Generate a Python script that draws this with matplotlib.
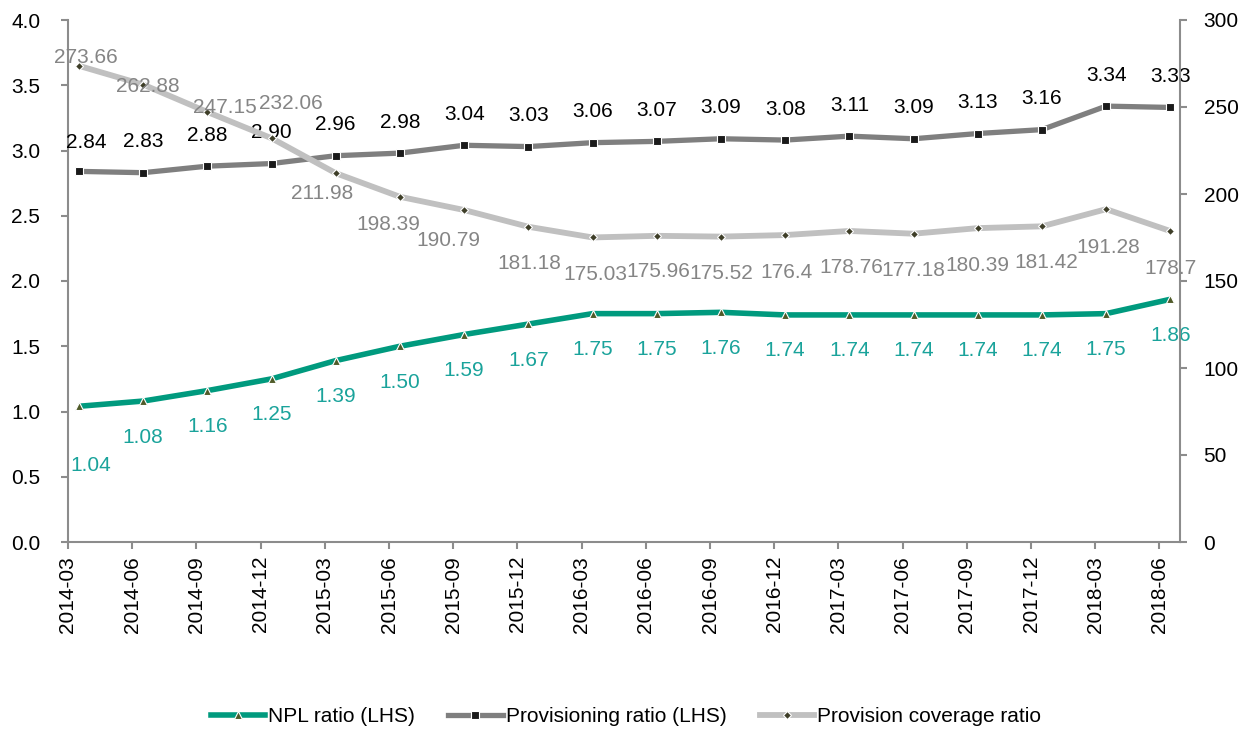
import matplotlib
matplotlib.use("Agg")
import matplotlib.pyplot as plt
from matplotlib.lines import Line2D
import numpy as np

plt.rcParams['font.family'] = ['Liberation Sans', 'DejaVu Sans']

quarters = ["2014-03", "2014-06", "2014-09", "2014-12", "2015-03", "2015-06",
            "2015-09", "2015-12", "2016-03", "2016-06", "2016-09", "2016-12",
            "2017-03", "2017-06", "2017-09", "2017-12", "2018-03", "2018-06"]
npl_ratio = [1.04, 1.08, 1.16, 1.25, 1.39, 1.50, 1.59, 1.67, 1.75, 1.75,
             1.76, 1.74, 1.74, 1.74, 1.74, 1.74, 1.75, 1.86]
prov_ratio = [2.84, 2.83, 2.88, 2.90, 2.96, 2.98, 3.04, 3.03, 3.06, 3.07,
              3.09, 3.08, 3.11, 3.09, 3.13, 3.16, 3.34, 3.33]
coverage = [273.66, 262.88, 247.15, 232.06, 211.98, 198.39, 190.79, 181.18,
            175.03, 175.96, 175.52, 176.4, 178.76, 177.18, 180.39, 181.42,
            191.28, 178.7]
npl_labels = ["%.2f" % v for v in npl_ratio]
prov_labels = ["%.2f" % v for v in prov_ratio]
cov_labels = ["273.66", "262.88", "247.15", "232.06", "211.98", "198.39",
              "190.79", "181.18", "175.03", "175.96", "175.52", "176.4",
              "178.76", "177.18", "180.39", "181.42", "191.28", "178.7"]

# label offsets in pixels (dx, dy)
cov_offsets = [(7, 8), (5, -2), (18, 4), (19, 35), (-14, -20), (-12, -28),
               (-16, -30), (1, -37), (3, -37), (2, -36), (0, -37), (1, -37),
               (2, -37), (0, -37), (0, -37), (4, -36), (2, -38), (0, -37)]
npl_offsets = [(12, -59)] + [(0, -36)] * 17
prov_offsets = [(7, 29)] + [(0, 31)] * 17

c_npl = '#009A7E'
c_npl_txt = '#1AA39B'
c_prov = '#7F7F7F'
c_cov = '#C0C0C0'
c_cov_txt = '#858585'
c_spine = '#8C8C8C'

x = np.arange(len(quarters))

fig = plt.figure(figsize=(12.46, 7.29), dpi=100)
ax = fig.add_axes([68 / 1246, 1 - 542 / 729, (1180 - 68) / 1246, (542 - 20) / 729])
ax2 = ax.twinx()

npl_style = dict(color=c_npl, lw=4.0, marker='^', ms=5.5, mfc='#4F5A28', mec='white', mew=0.8)
prov_style = dict(color=c_prov, lw=3.8, marker='s', ms=6, mfc='#1A1A1A', mec='white', mew=0.8)
cov_style = dict(color=c_cov, lw=4.2, marker='D', ms=4.5, mfc='#3E3E28', mec='white', mew=0.8)

ax.plot(x, npl_ratio, zorder=3, solid_capstyle='butt', **npl_style)
ax.plot(x, prov_ratio, zorder=3, solid_capstyle='butt', **prov_style)
ax2.plot(x, coverage, zorder=3, solid_capstyle='butt', **cov_style)

fs = 15
for i in range(len(x)):
    ax.annotate(npl_labels[i], (x[i], npl_ratio[i]), xytext=npl_offsets[i],
                textcoords='offset pixels', ha='center', va='center',
                fontsize=fs, color=c_npl_txt)
    ax.annotate(prov_labels[i], (x[i], prov_ratio[i]), xytext=prov_offsets[i],
                textcoords='offset pixels', ha='center', va='center',
                fontsize=fs, color='black')
    ax2.annotate(cov_labels[i], (x[i], coverage[i]), xytext=cov_offsets[i],
                 textcoords='offset pixels', ha='center', va='center',
                 fontsize=fs, color=c_cov_txt)

ax.set_xlim(-0.17, 17.15)
ax.set_ylim(0, 4)
ax2.set_ylim(0, 300)
ax.set_yticks(np.arange(0, 4.01, 0.5))
ax.set_yticklabels(["%.1f" % v for v in np.arange(0, 4.01, 0.5)])
ax2.set_yticks(np.arange(0, 301, 50))
ax.set_xticks(x - 0.17)
ax.set_xticklabels(quarters, rotation=90)

for a in (ax, ax2):
    a.spines['top'].set_visible(False)
    for s in a.spines.values():
        s.set_color(c_spine)
        s.set_linewidth(1.5)
    a.tick_params(colors=c_spine, labelcolor='black', labelsize=fs,
                  width=1.5, length=5)
ax.spines['right'].set_visible(False)
ax2.spines['left'].set_visible(False)
ax2.spines['bottom'].set_visible(False)
ax.tick_params(axis='y', pad=15)
ax2.tick_params(axis='y', pad=12)
ax.tick_params(axis='x', pad=5)

handles = [Line2D([], [], **npl_style), Line2D([], [], **prov_style), Line2D([], [], **cov_style)]
fig.legend(handles, ["NPL ratio (LHS)", "Provisioning ratio (LHS)", "Provision coverage ratio"],
           loc='center', bbox_to_anchor=(626 / 1246, 1 - 717 / 729), ncol=3, frameon=False,
           handlelength=2.6, handletextpad=0.15, columnspacing=1.6,
           prop={'family': ['Liberation Sans Narrow', 'Liberation Sans'], 'size': 15})

fig.savefig("out.png", dpi=100)
